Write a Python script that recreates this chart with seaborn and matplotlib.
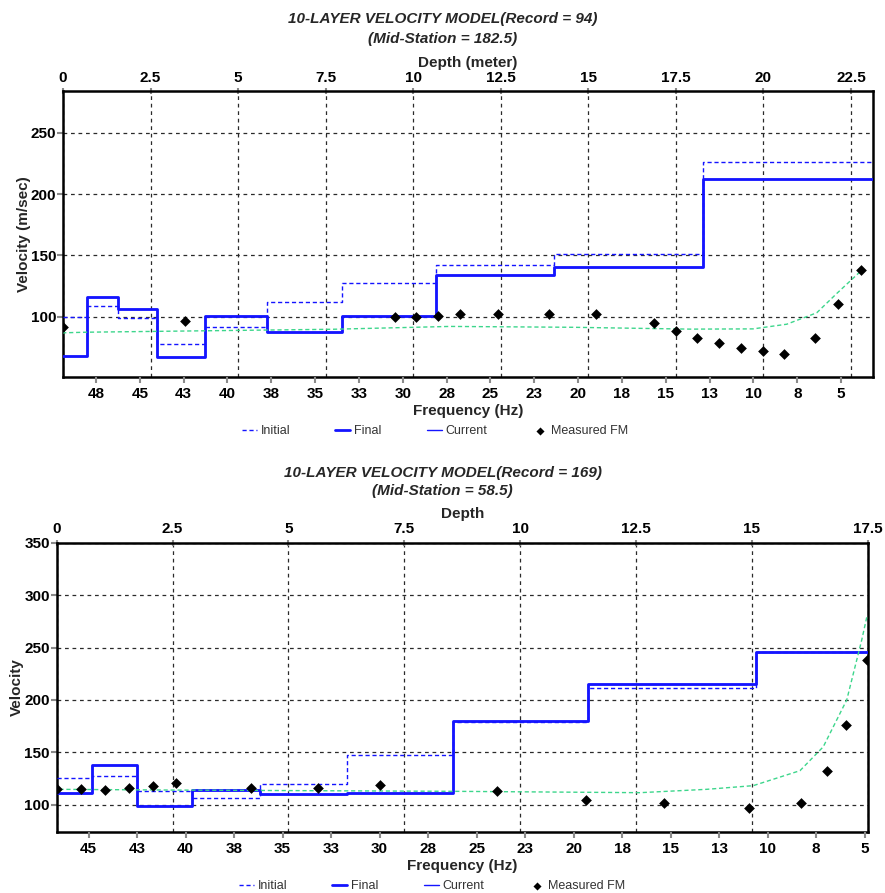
import matplotlib
matplotlib.use('Agg')
import matplotlib.pyplot as plt
import seaborn as sns
import pandas as pd

sns.set_theme(style='white')
plt.rcParams['font.family'] = ['Liberation Sans', 'DejaVu Sans']

# ---------------- Chart 1 (Record = 94) ----------------
c1_title = "10-LAYER VELOCITY MODEL(Record = 94)"
c1_subtitle = "(Mid-Station = 182.5)"
c1_depth_label = "Depth (meter)"
c1_vel_label = "Velocity (m/sec)"
c1_layer_top = [0, 0.69, 1.58, 2.68, 4.05, 5.82, 7.98, 10.66, 14.03, 18.27]
c1_depth_end = 23.13
c1_initial = [100, 109, 99, 77.7, 92, 111.7, 127.7, 142.4, 151, 226.4]
c1_final = [68.2, 115.8, 106.5, 67.4, 100.8, 87.5, 100.8, 134, 140.3, 212.3]
c1_current = list(c1_final)
c1_meas_freq = [49.38, 42.41, 30.44, 29.23, 27.97, 26.74, 24.58, 21.64, 19.0,
                15.65, 14.43, 13.2, 11.94, 10.72, 9.47, 8.24, 6.47, 5.19, 3.86]
c1_meas_vel = [91.4, 96.5, 100, 100, 100.3, 102.7, 102, 102, 102,
               95.1, 88.3, 82.6, 78.8, 75, 72, 69.6, 82.6, 110.4, 137.8]
c1_theo_freq = [49.38, 48.0, 41.57, 33.98, 27.31, 20.29, 17.21, 13.6, 10.02, 8.1, 6.39, 5.25, 3.92]
c1_theo_vel = [87, 87.5, 88.6, 89.9, 92.2, 91.5, 90.8, 90, 90.2, 94, 103.3, 119, 136.7]
c1_depth_ticks = [0, 2.5, 5, 7.5, 10, 12.5, 15, 17.5, 20, 22.5]
c1_depth_ticklabels = ["0", "2.5", "5", "7.5", "10", "12.5", "15", "17.5", "20", "22.5"]
c1_freq_ticks = [47.5, 45, 42.5, 40, 37.5, 35, 32.5, 30, 27.5, 25, 22.5, 20, 17.5, 15, 12.5, 10, 7.5, 5]
c1_freq_ticklabels = ["48", "45", "43", "40", "38", "35", "33", "30", "28", "25", "23", "20",
                      "18", "15", "13", "10", "8", "5"]
c1_freq_lim = (49.38, 3.18)
c1_vel_ticks = [100, 150, 200, 250]
c1_vel_lim = (51, 284)

# ---------------- Chart 2 (Record = 169) ----------------
c2_title = "10-LAYER VELOCITY MODEL(Record = 169)"
c2_subtitle = "(Mid-Station = 58.5)"
c2_depth_label = "Depth"
c2_vel_label = "Velocity"
c2_layer_top = [0, 0.755, 1.73, 2.91, 4.39, 6.26, 8.56, 11.47, 15.08]
c2_depth_end = 17.5
c2_initial = [125.2, 127, 113.4, 106, 119.7, 147.1, 178.6, 211, 245.4]
c2_final = [111.5, 137.6, 99, 114, 110.2, 111.5, 179.6, 215.2, 245.4]
c2_current = list(c2_final)
c2_meas_freq = [46.61, 45.39, 44.15, 42.93, 41.70, 40.48, 36.61, 33.16, 29.98,
                23.93, 19.36, 15.34, 10.96, 8.29, 6.95, 5.97, 4.86]
c2_meas_vel = [114.7, 115, 114, 116, 117.8, 120.4, 116, 116, 118.5,
               113.1, 104.8, 101.9, 96.9, 101.9, 132.2, 176, 238]
c2_theo_freq = [46.61, 40.65, 26.22, 16.58, 13.14, 10.74, 8.33, 7.13, 5.92, 5.15, 4.89]
c2_theo_vel = [114.7, 114, 112.8, 111.5, 114.7, 118.2, 132.5, 155.3, 200, 257, 278.8]
c2_depth_ticks = [0, 2.5, 5, 7.5, 10, 12.5, 15, 17.5]
c2_depth_ticklabels = ["0", "2.5", "5", "7.5", "10", "12.5", "15", "17.5"]
c2_freq_ticks = [45, 42.5, 40, 37.5, 35, 32.5, 30, 27.5, 25, 22.5, 20, 17.5, 15, 12.5, 10, 7.5, 5]
c2_freq_ticklabels = ["45", "43", "40", "38", "35", "33", "30", "28", "25", "23", "20",
                      "18", "15", "13", "10", "8", "5"]
c2_freq_lim = (46.64, 4.84)
c2_vel_ticks = [100, 150, 200, 250, 300, 350]
c2_vel_lim = (73.7, 350)

legend_names = ["Initial", "Final", "Current", "Measured FM"]

BLUE = '#1414ff'
GREEN = '#3dd68c'
GRID = '#2a2a2a'
TICKC = '#8a8a8a'

fig = plt.figure(figsize=(8.85, 8.93), dpi=100)


def draw(rect, layer_top, depth_end, initial, final, current, mfreq, mvel, tfreq, tvel,
         dticks, dlabels, fticks, flabels, flim, vticks, vlim,
         title, subtitle, dlabel, vlabel, title_y, sub_gap, legend_y, legend_x):
    ax = fig.add_axes(rect)
    axf = ax.twiny()

    depth = layer_top + [depth_end]
    df = pd.DataFrame({
        'depth': depth,
        'Initial': initial + [initial[-1]],
        'Final': final + [final[-1]],
        'Current': current + [current[-1]],
    })
    sns.lineplot(data=df, x='depth', y='Initial', ax=ax, drawstyle='steps-post',
                 color=BLUE, lw=1.0, linestyle=(0, (3, 2)), label=legend_names[0], zorder=3)
    sns.lineplot(data=df, x='depth', y='Final', ax=ax, drawstyle='steps-post',
                 color=BLUE, lw=2.0, label=legend_names[1], zorder=4)
    sns.lineplot(data=df, x='depth', y='Current', ax=ax, drawstyle='steps-post',
                 color=BLUE, lw=1.0, label=legend_names[2], zorder=5)
    ax.set_xlim(0, depth_end)
    ax.set_ylim(*vlim)
    ax.set_xticks(dticks, dlabels, fontweight='bold', fontsize=11)
    ax.set_yticks(vticks, [str(v) for v in vticks], fontweight='bold', fontsize=11)
    ax.xaxis.tick_top()
    ax.xaxis.set_label_position('top')
    ax.set_xlabel(dlabel, fontweight='bold', fontsize=11, labelpad=3)
    ax.set_ylabel(vlabel, fontweight='bold', fontsize=11, labelpad=0)
    ax.tick_params(axis='x', which='major', top=True, bottom=False, labeltop=True,
                   labelbottom=False, direction='inout',
                   length=5, width=1.5, color=TICKC, pad=2, labelcolor='black')
    ax.tick_params(axis='y', which='major', left=True, direction='out',
                   length=4, width=1.5, color=TICKC, pad=1, labelcolor='black')
    ax.grid(True, color=GRID, linestyle=(0, (3, 3)), linewidth=0.9)
    ax.set_axisbelow(True)
    for s in ax.spines.values():
        s.set_visible(True)
        s.set_color('black')
        s.set_linewidth(1.8)

    sns.lineplot(x=tfreq, y=tvel, ax=axf, color=GREEN, lw=1.0,
                 linestyle=(0, (3, 2)), zorder=3)
    sns.scatterplot(x=mfreq, y=mvel, ax=axf, marker='D', color='black', s=30,
                    linewidth=0, zorder=6, label=legend_names[3])
    axf.set_xlim(*flim)
    axf.set_ylim(*vlim)
    axf.set_xticks(fticks, flabels, fontweight='bold', fontsize=11)
    axf.xaxis.tick_bottom()
    axf.xaxis.set_label_position('bottom')
    axf.set_xlabel('Frequency (Hz)', fontweight='bold', fontsize=11, labelpad=2)
    axf.tick_params(axis='x', which='major', bottom=True, top=False, labelbottom=True,
                    labeltop=False, direction='out',
                    length=4, width=1.5, color=TICKC, pad=3, labelcolor='black')
    axf.grid(False)
    for s in axf.spines.values():
        s.set_visible(False)

    h1, l1 = ax.get_legend_handles_labels()
    h2, l2 = axf.get_legend_handles_labels()
    for a in (ax, axf):
        if a.get_legend() is not None:
            a.get_legend().remove()
    leg = fig.legend(h1 + h2, l1 + l2, loc='center', bbox_to_anchor=(legend_x, legend_y),
                     ncol=4, frameon=False, fontsize=9, handlelength=1.2, handletextpad=0.3,
                     columnspacing=3.6, markerscale=0.75)
    for t in leg.get_texts():
        t.set_color('#333333')

    fig.text(0.5, title_y, title, ha='center', va='center', fontsize=11,
             fontweight='bold', style='italic')
    fig.text(0.5, title_y - sub_gap, subtitle, ha='center', va='center', fontsize=11,
             fontweight='bold', style='italic')
    return ax, axf


draw([63 / 885, 1 - 377 / 893, 810 / 885, 286 / 893],
     c1_layer_top, c1_depth_end, c1_initial, c1_final, c1_current,
     c1_meas_freq, c1_meas_vel, c1_theo_freq, c1_theo_vel,
     c1_depth_ticks, c1_depth_ticklabels, c1_freq_ticks, c1_freq_ticklabels, c1_freq_lim,
     c1_vel_ticks, c1_vel_lim, c1_title, c1_subtitle, c1_depth_label, c1_vel_label,
     1 - 18.5 / 893, 21 / 893, 1 - 431 / 893, 435 / 885)

draw([56.7 / 885, 1 - 832.3 / 893, 811 / 885, 289.6 / 893],
     c2_layer_top, c2_depth_end, c2_initial, c2_final, c2_current,
     c2_meas_freq, c2_meas_vel, c2_theo_freq, c2_theo_vel,
     c2_depth_ticks, c2_depth_ticklabels, c2_freq_ticks, c2_freq_ticklabels, c2_freq_lim,
     c2_vel_ticks, c2_vel_lim, c2_title, c2_subtitle, c2_depth_label, c2_vel_label,
     1 - 472.5 / 893, 18 / 893, 1 - 886 / 893, 432 / 885)

fig.savefig('out.png', dpi=100)
